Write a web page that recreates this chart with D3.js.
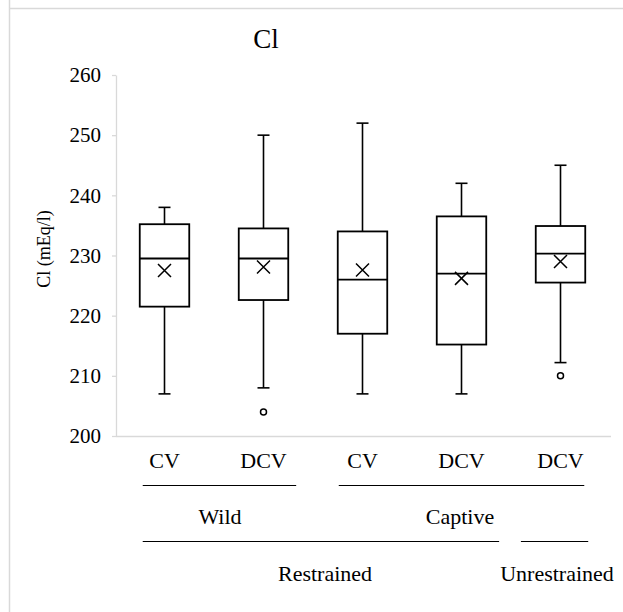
<!DOCTYPE html>
<html>
<head>
    <title>Cl box plot</title>
    <script src="https://d3js.org/d3.v7.min.js"></script>
    <style>
        body { margin: 0; background: #fff; }
        text { font-family: "Liberation Serif", "Times New Roman", serif; fill: #000; }
    </style>
</head>
<body>
    <div id="container"></div>

    <script>
        // data
        var categories = ["CV", "DCV", "CV", "DCV", "DCV"];
        var whiskerLow  = [207, 208, 207, 207, 212.2];
        var q1          = [221.5, 222.6, 217, 215.2, 225.5];
        var medians     = [229.5, 229.5, 226, 227, 230.3];
        var q3          = [235.2, 234.5, 234, 236.5, 234.9];
        var whiskerHigh = [238, 250, 252, 242, 245];
        var means       = [227.5, 228.1, 227.6, 226.2, 229];
        var outliers    = [[], [204], [], [], [210]];
        var yTicks = [200, 210, 220, 230, 240, 250, 260];

        // grouping labels under the axis
        var groupRow1 = ["Wild", "Captive"];
        var groupRow2 = ["Restrained", "Unrestrained"];

        var width = 623, height = 612;
        var mLeft = 116, mRight = 611, mTop = 75, mBottom = 436;

        var svg = d3.select("#container").append("svg")
            .attr("width", width)
            .attr("height", height);

        // outer frame edges
        svg.append("line").attr("x1", 9.5).attr("x2", 9.5).attr("y1", 0).attr("y2", height)
            .attr("stroke", "#d9d9d9").attr("stroke-width", 1.5);
        svg.append("line").attr("x1", 9.5).attr("x2", width).attr("y1", 8.5).attr("y2", 8.5)
            .attr("stroke", "#d9d9d9").attr("stroke-width", 1.5);

        var y = d3.scaleLinear().domain([200, 260]).range([mBottom, mTop]);
        var idx = d3.range(categories.length);
        var x = d3.scaleBand().domain(idx).range([mLeft, mRight]).padding(0);
        var xPos = d3.scaleLinear().domain([0, categories.length]).range([mLeft, mRight]);
        var boxW = x.bandwidth() * 0.5;
        var capW = 12;
        function cx(i) { return x(i) + x.bandwidth() / 2 - 1; }

        // y axis
        var yAxis = svg.append("g")
            .attr("transform", "translate(" + mLeft + ",0)")
            .call(d3.axisLeft(y).tickValues(yTicks).tickSize(4).tickSizeOuter(0).tickPadding(11));
        yAxis.selectAll("path, line").attr("stroke", "#d9d9d9").attr("stroke-width", 1.3);
        yAxis.selectAll("text")
            .style("font-family", "'Liberation Serif', serif")
            .style("font-size", "21px")
            .attr("fill", "#000");

        // x axis line
        svg.append("line")
            .attr("x1", mLeft).attr("x2", mRight)
            .attr("y1", mBottom + 0.5).attr("y2", mBottom + 0.5)
            .attr("stroke", "#d9d9d9").attr("stroke-width", 1.3);

        // title
        svg.append("text")
            .attr("x", 266).attr("y", 48)
            .attr("text-anchor", "middle")
            .style("font-size", "27px")
            .text("Cl");

        // y title
        svg.append("text")
            .attr("transform", "translate(50,249) rotate(-90)")
            .attr("text-anchor", "middle")
            .style("font-size", "18px")
            .text("Cl (mEq/l)");

        var boxes = svg.append("g").selectAll("g")
            .data(idx)
            .join("g")
            .attr("transform", function(i) { return "translate(" + cx(i) + ",0)"; });

        // whiskers
        boxes.append("line")
            .attr("x1", 0).attr("x2", 0)
            .attr("y1", function(i) { return y(whiskerHigh[i]); })
            .attr("y2", function(i) { return y(q3[i]); })
            .attr("stroke", "#000").attr("stroke-width", 1.6);
        boxes.append("line")
            .attr("x1", 0).attr("x2", 0)
            .attr("y1", function(i) { return y(q1[i]); })
            .attr("y2", function(i) { return y(whiskerLow[i]); })
            .attr("stroke", "#000").attr("stroke-width", 1.6);
        boxes.append("line")
            .attr("x1", -capW / 2).attr("x2", capW / 2)
            .attr("y1", function(i) { return y(whiskerHigh[i]); })
            .attr("y2", function(i) { return y(whiskerHigh[i]); })
            .attr("stroke", "#000").attr("stroke-width", 1.6);
        boxes.append("line")
            .attr("x1", -capW / 2).attr("x2", capW / 2)
            .attr("y1", function(i) { return y(whiskerLow[i]); })
            .attr("y2", function(i) { return y(whiskerLow[i]); })
            .attr("stroke", "#000").attr("stroke-width", 1.6);

        // box
        boxes.append("rect")
            .attr("x", -boxW / 2)
            .attr("width", boxW)
            .attr("y", function(i) { return y(q3[i]); })
            .attr("height", function(i) { return y(q1[i]) - y(q3[i]); })
            .attr("fill", "#fff")
            .attr("stroke", "#000").attr("stroke-width", 1.8);

        // median
        boxes.append("line")
            .attr("x1", -boxW / 2).attr("x2", boxW / 2)
            .attr("y1", function(i) { return y(medians[i]); })
            .attr("y2", function(i) { return y(medians[i]); })
            .attr("stroke", "#000").attr("stroke-width", 1.8);

        // mean marker
        var m = 6.5;
        boxes.append("path")
            .attr("d", function(i) {
                var cy = y(means[i]);
                return "M" + (-m) + "," + (cy - m) + "L" + m + "," + (cy + m) +
                       "M" + (-m) + "," + (cy + m) + "L" + m + "," + (cy - m);
            })
            .attr("stroke", "#000").attr("stroke-width", 1.5).attr("fill", "none");

        // outliers
        boxes.selectAll("circle")
            .data(function(i) { return outliers[i]; })
            .join("circle")
            .attr("cx", 0)
            .attr("cy", function(d) { return y(d); })
            .attr("r", 3)
            .attr("fill", "#fff")
            .attr("stroke", "#000").attr("stroke-width", 1.5);

        // category labels
        svg.append("g").selectAll("text")
            .data(idx)
            .join("text")
            .attr("x", cx)
            .attr("y", 468)
            .attr("text-anchor", "middle")
            .style("font-size", "22px")
            .text(function(i) { return categories[i]; });

        // group lines: spans in category units, text centres in px
        var row1Spans = [[0.27, 1.82], [2.25, 4.73]];
        var row1Text = [220, 460];
        var row2Spans = [[0.27, 3.87], [4.09, 4.77]];
        var row2Text = [325, 557];

        function groupRow(labels, spans, textX, lineY, textY) {
            var g = svg.append("g");
            g.selectAll("line")
                .data(spans)
                .join("line")
                .attr("x1", function(d) { return xPos(d[0]); })
                .attr("x2", function(d) { return xPos(d[1]); })
                .attr("y1", lineY).attr("y2", lineY)
                .attr("stroke", "#000").attr("stroke-width", 1);
            g.selectAll("text")
                .data(labels)
                .join("text")
                .attr("x", function(d, i) { return textX[i]; })
                .attr("y", textY)
                .attr("text-anchor", "middle")
                .style("font-size", "22px")
                .text(function(d) { return d; });
        }

        groupRow(groupRow1, row1Spans, row1Text, 485.5, 524);
        groupRow(groupRow2, row2Spans, row2Text, 541.5, 581);
    </script>
</body>
</html>
